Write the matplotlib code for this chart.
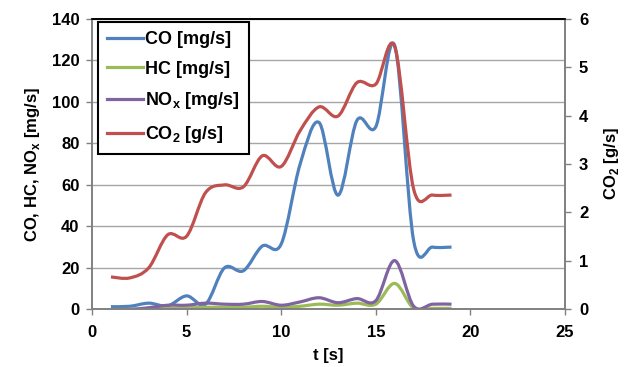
import numpy as np
import matplotlib
matplotlib.use("Agg")
import matplotlib.pyplot as plt
from matplotlib.path import Path
from matplotlib.patches import PathPatch
from matplotlib.lines import Line2D

plt.rcParams['font.family'] = ['Liberation Sans', 'DejaVu Sans']
plt.rcParams['font.weight'] = 'bold'
plt.rcParams['mathtext.fontset'] = 'custom'
plt.rcParams['mathtext.rm'] = 'Liberation Sans:bold'
plt.rcParams['mathtext.bf'] = 'Liberation Sans:bold'

# data
t = [1, 2, 3, 4, 5, 6, 7, 8, 9, 10, 11, 12, 13, 14, 15, 16, 17, 18, 19]
co = [1.3, 1.5, 3, 1.7, 6.5, 2.5, 20, 18.6, 30.5, 31.5, 70, 90, 55, 91, 88, 127, 33, 30, 30]
hc = [0, 0, 0.2, 0.5, 0.7, 1, 1, 1, 1.5, 1, 1.5, 2.5, 2, 3, 2.5, 12.5, 0.5, 0.5, 0.5]
nox = [0, 0, 0.8, 2, 2, 3, 2.5, 2.5, 3.8, 2, 3.6, 5.6, 3.2, 5.2, 4.2, 23.5, 1.5, 2.5, 2.5]
co2 = [0.67, 0.65, 0.86, 1.54, 1.51, 2.41, 2.57, 2.53, 3.17, 2.95, 3.69, 4.18, 3.99, 4.68, 4.65, 5.42, 2.48, 2.36, 2.36]

blue = '#4F81BD'
green = '#9BBB59'
purple = '#8064A2'
red = '#C0504D'


def smooth_path(x, y):
    # Excel-style smoothed line: cubic bezier, control points from neighbours / 6
    p = np.column_stack([x, y]).astype(float)
    n = len(p)
    verts = [p[0]]
    codes = [Path.MOVETO]
    for i in range(n - 1):
        p0 = p[i - 1] if i > 0 else p[i]
        p3 = p[i + 2] if i + 2 < n else p[i + 1]
        c1 = p[i] + (p[i + 1] - p0) / 6
        c2 = p[i + 1] - (p3 - p[i]) / 6
        verts += [c1, c2, p[i + 1]]
        codes += [Path.CURVE4] * 3
    return Path(verts, codes)


fig = plt.figure(figsize=(6.29, 3.67), dpi=100)
ax = fig.add_axes([0.1463, 0.157, 0.752, 0.792])
ax2 = ax.twinx()

lw = 2.3
for yy, c in [(co, blue), (hc, green), (nox, purple)]:
    ax.add_patch(PathPatch(smooth_path(t, yy), facecolor='none', edgecolor=c,
                           lw=lw, capstyle='butt', joinstyle='round'))
ax2.add_patch(PathPatch(smooth_path(t, co2), facecolor='none', edgecolor=red,
                        lw=lw, capstyle='butt', joinstyle='round'))

ax.set_xlim(0, 25)
ax.set_ylim(0, 140)
ax2.set_ylim(0, 6)
ax.set_xticks(range(0, 26, 5))
ax.set_yticks(range(0, 141, 20))
ax2.set_yticks(range(0, 7))

ax.grid(axis='y', color='#a6a6a6', lw=1.0)
ax.set_axisbelow(True)

for a in (ax, ax2):
    for s in a.spines.values():
        s.set_color('#808080')
        s.set_linewidth(1.2)
    a.spines['top'].set_color('black')
    a.tick_params(colors='#808080', labelcolor='black', labelsize=12,
                  length=4, width=1.0, direction='out')
ax.tick_params(axis='x', pad=7)
ax.tick_params(axis='y', pad=5)
ax2.tick_params(axis='y', pad=6)

ax.set_xlabel('t [s]', fontsize=12, fontweight='bold', labelpad=6)
ax.set_ylabel(r'CO, HC, NO$_\mathbf{x}$ [mg/s]', fontsize=12, fontweight='bold', labelpad=7)
ax2.set_ylabel(r'CO$_\mathbf{2}$ [g/s]', fontsize=12, fontweight='bold', labelpad=10)

handles = [Line2D([], [], color=blue, lw=lw),
           Line2D([], [], color=green, lw=lw),
           Line2D([], [], color=purple, lw=lw),
           Line2D([], [], color=red, lw=lw)]
labels = ['CO [mg/s]', 'HC [mg/s]', r'NO$_\mathbf{x}$ [mg/s]', r'CO$_\mathbf{2}$ [g/s]']
leg = ax2.legend(handles, labels, loc='upper left', bbox_to_anchor=(98 / 629, 1 - 22 / 367),
                 bbox_transform=fig.transFigure, fancybox=False, framealpha=1,
                 edgecolor='black', fontsize=13, handlelength=2.0, handletextpad=0.1,
                 labelspacing=0.7, borderpad=0.5, borderaxespad=0)
leg.get_frame().set_linewidth(1.5)
for txt in leg.get_texts():
    txt.set_fontweight('bold')

fig.savefig('out.png', dpi=100)
